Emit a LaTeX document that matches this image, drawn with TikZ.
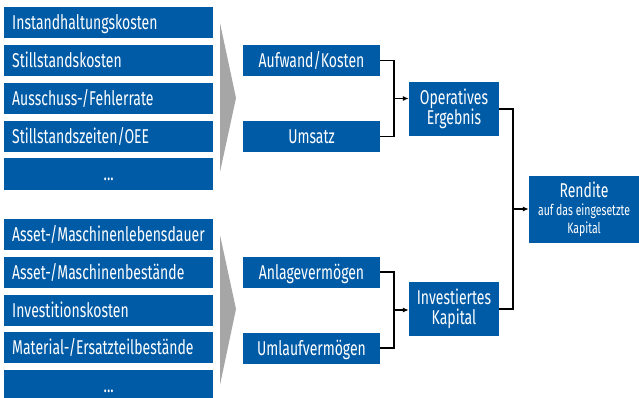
\documentclass[tikz,border=0pt]{standalone}
\usepackage{fontspec}
\setmainfont{Fira Sans}[FakeStretch=0.7]
\usetikzlibrary{arrows.meta}
\definecolor{blau}{RGB}{0,91,166}
\begin{document}
\begin{tikzpicture}
		[x=1pt,y=-1pt,
		feld/.style={fill=blau,text=white,inner sep=0pt,
			minimum height=31pt,font=\fontsize{20}{20}\selectfont,
			text height=14pt,text depth=0pt},
		links/.style={feld,text width=193pt,inner xsep=8pt,align=left},
		punkte/.style={feld,text width=193pt,inner xsep=8pt,align=center},
		mitte/.style={feld,minimum width=137pt},
		block/.style={fill=blau,text=white,inner sep=0pt,
			minimum width=90pt,minimum height=54pt,align=center,
			font=\fontsize{20}{20}\selectfont},
		linie/.style={line width=1.6pt},
		pfeil/.style={linie,-{Latex[length=6pt,width=5pt]}}]
		\useasboundingbox (0,0) rectangle (639,398);
		\fill[black!35] (220,23) -- (236,98) -- (220,172) -- cycle;
		\fill[black!35] (220,235) -- (236,309) -- (220,385) -- cycle;
		\node[links,anchor=west] (k1) at (4,22.5) {Instandhaltungskosten};
		\node[links,anchor=west] (k2) at (4,60.5) {Stillstandskosten};
		\node[links,anchor=west] (k3) at (4,98.5) {Ausschuss-/Fehlerrate};
		\node[links,anchor=west] (k4) at (4,136.5) {Stillstandszeiten/OEE};
		\node[punkte,anchor=west] (k5) at (4,174) {...};
		\node[links,anchor=west] (v1) at (4,234.5) {\mbox{Asset-/Maschinenlebensdauer}};
		\node[links,anchor=west] (v2) at (4,272.5) {\mbox{Asset-/Maschinenbestände}};
		\node[links,anchor=west] (v3) at (4,310.5) {Investitionskosten};
		\node[links,anchor=west] (v4) at (4,347.5) {\mbox{Material-/Ersatzteilbestände}};
		\node[punkte,anchor=west] (v5) at (4,385.5) {...};
		\node[mitte] (aufwand) at (311.5,60.5) {Aufwand/Kosten};
		\node[mitte] (umsatz) at (311.5,136.5) {Umsatz};
		\node[mitte] (anlage) at (311.5,272) {Anlagevermögen};
		\node[mitte] (umlauf) at (311.5,348) {Umlaufvermögen};
		\node[block] (ergebnis) at (454,109) {Operatives\\Ergebnis};
		\node[block] (kapital) at (454,309) {Investiertes\\Kapital};
		\node[block,minimum width=110pt,minimum height=67pt] (rendite) at (584,209.5)
			{Rendite\\[-2pt]{\fontsize{15}{17}\selectfont auf das eingesetzte}\\[-2pt]
			{\fontsize{15}{17}\selectfont Kapital}};
		\coordinate (gabel1) at (394,98.5);
		\coordinate (gabel2) at (394,310);
		\coordinate (gabel3) at (513,209);
		\draw[linie] (aufwand.east) -| (gabel1) |- (umsatz.east);
		\draw[pfeil] (gabel1) -- (gabel1 -| ergebnis.west);
		\draw[linie] (anlage.east) -| (gabel2) |- (umlauf.east);
		\draw[pfeil] (gabel2) -- (gabel2 -| kapital.west);
		\draw[linie] (ergebnis.east) -| (gabel3) |- (kapital.east);
		\draw[pfeil] (gabel3) -- (gabel3 -| rendite.west);
	\end{tikzpicture}
\end{document}
